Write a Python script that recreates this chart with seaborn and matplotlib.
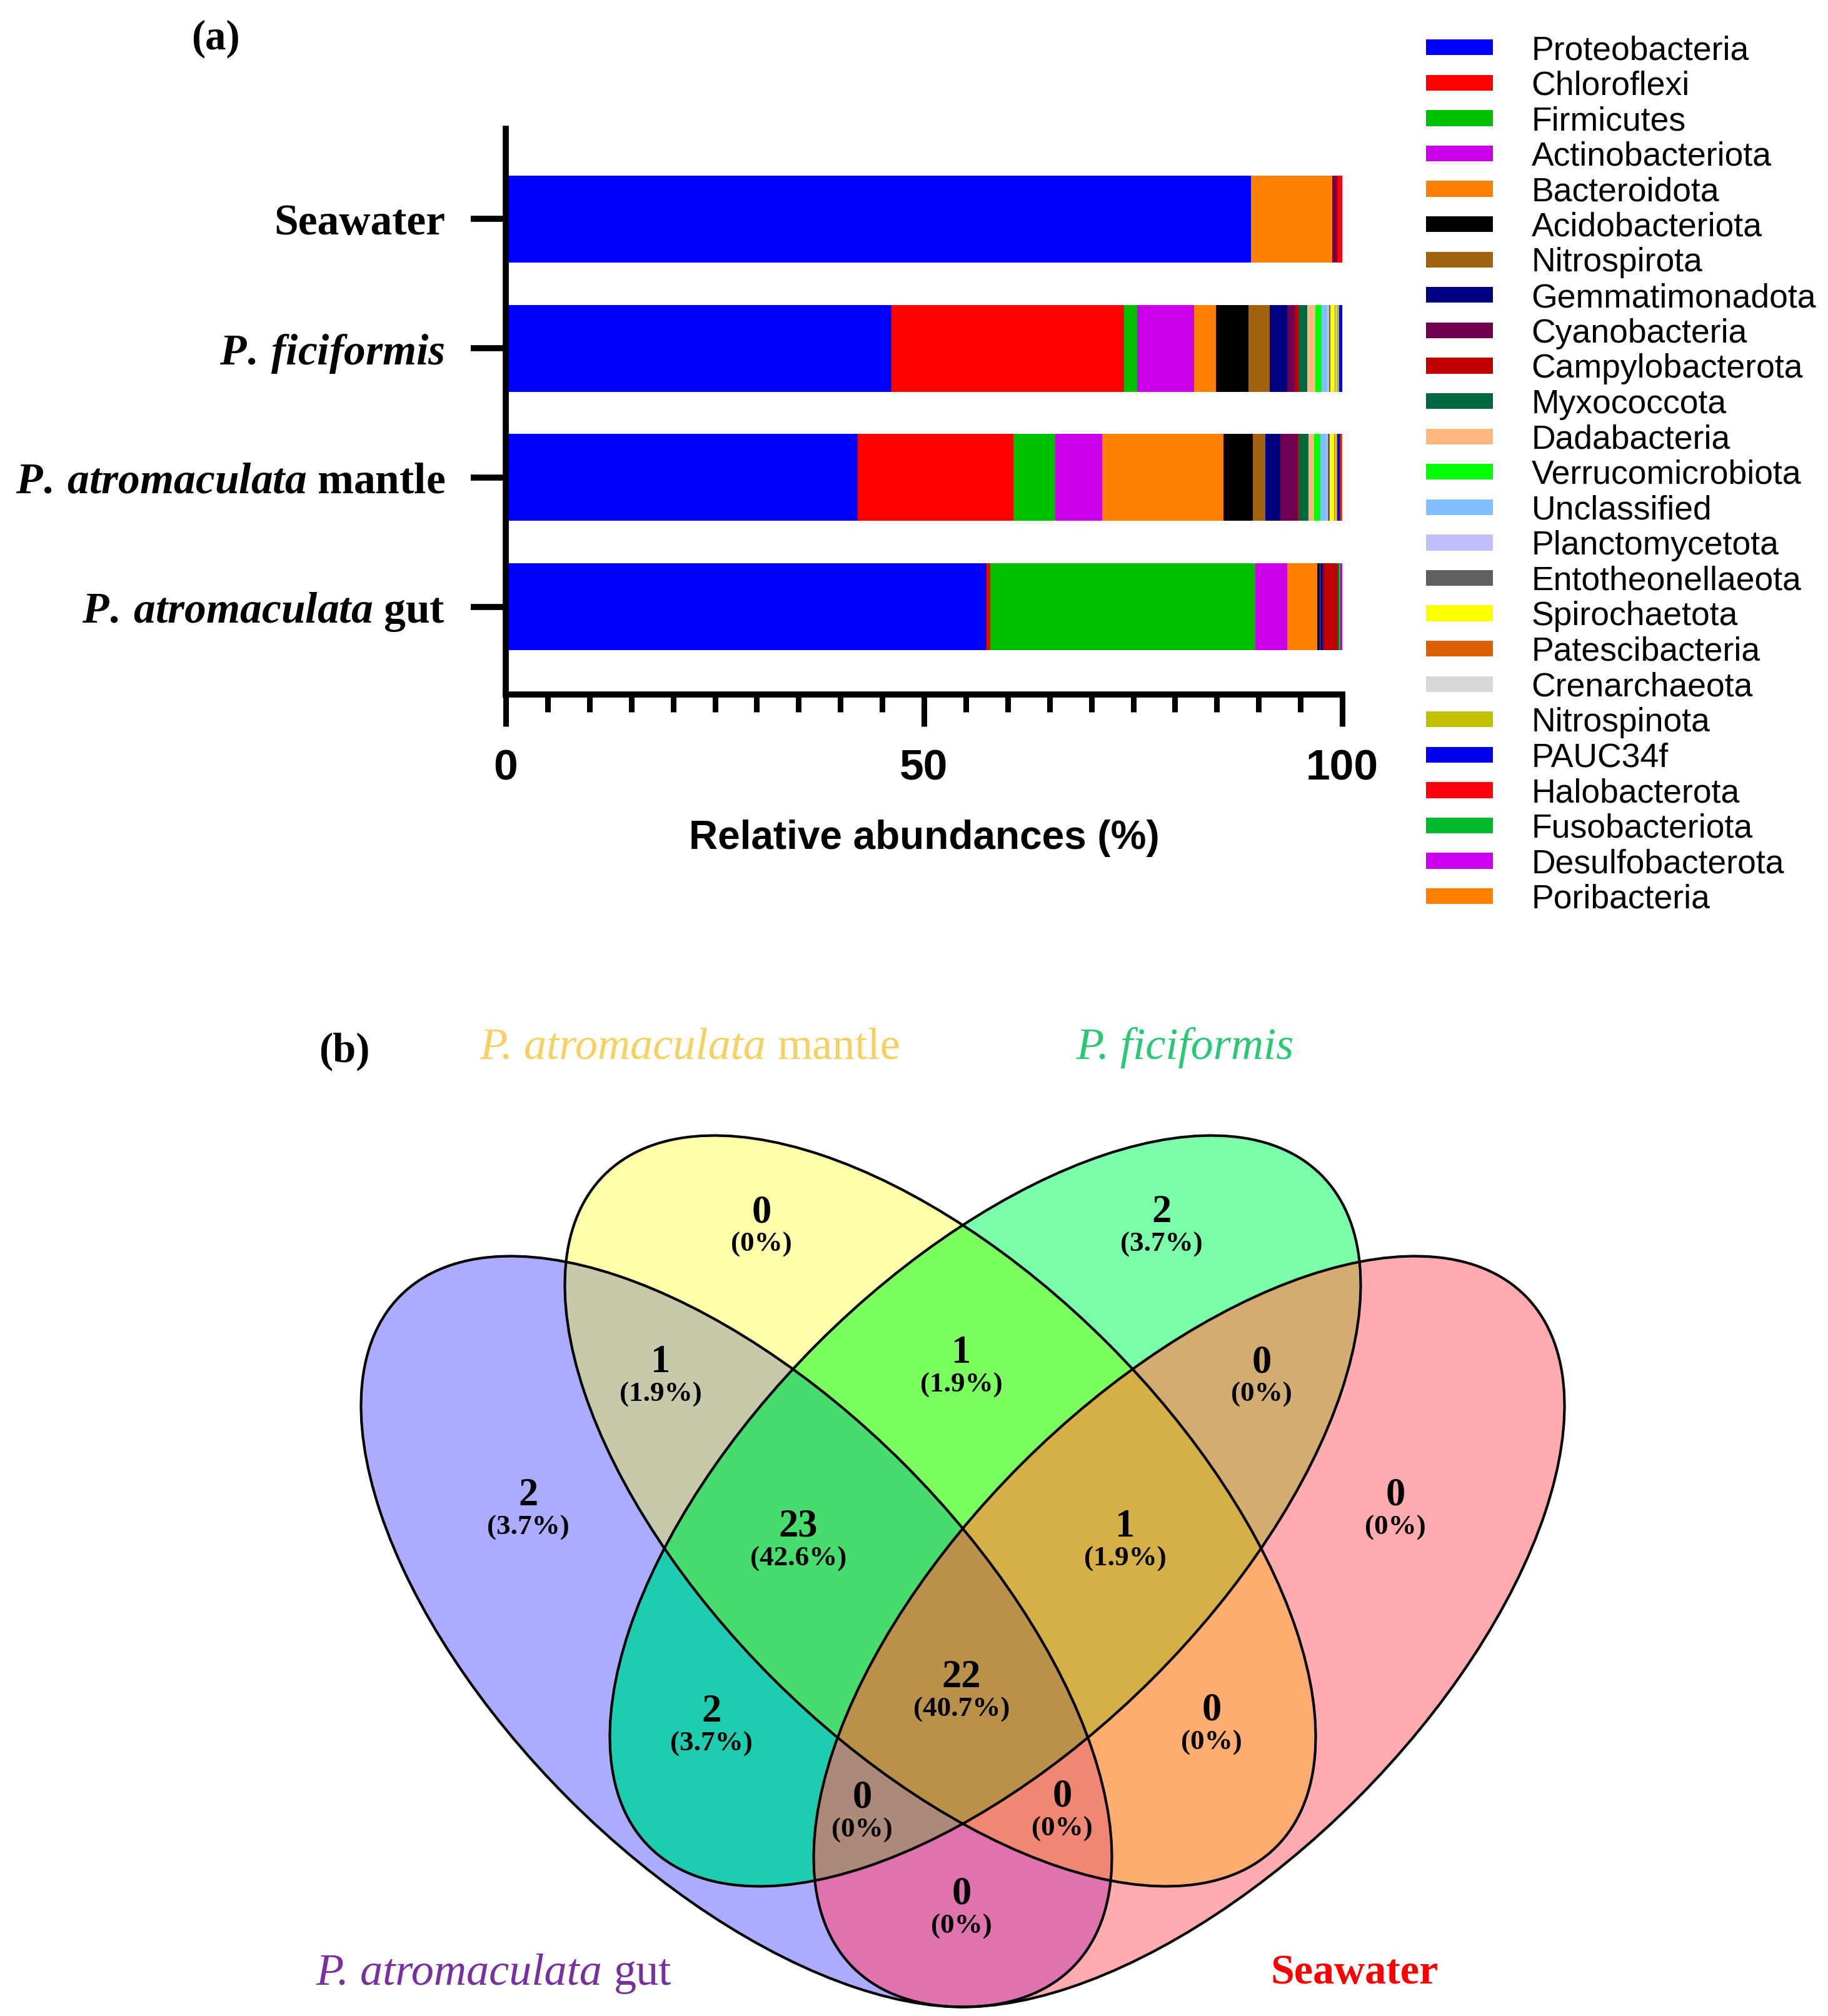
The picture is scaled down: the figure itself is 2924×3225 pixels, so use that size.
import numpy as np
import pandas as pd
import matplotlib
matplotlib.use("Agg")
import matplotlib.pyplot as plt
import seaborn as sns
from matplotlib.patches import Ellipse, Patch
from matplotlib.colors import to_rgba
from matplotlib.offsetbox import TextArea, HPacker, AnnotationBbox

sns.set_style("white")
plt.rcParams["font.family"] = ["Liberation Serif", "DejaVu Serif"]
plt.rcParams["text.color"] = "black"
plt.rcParams["axes.labelcolor"] = "black"
plt.rcParams["xtick.color"] = "black"
plt.rcParams["ytick.color"] = "black"
plt.rcParams["mathtext.fontset"] = "custom"
plt.rcParams["mathtext.rm"] = "Liberation Serif:bold"
plt.rcParams["mathtext.bf"] = "Liberation Serif:bold"
plt.rcParams["mathtext.it"] = "Liberation Serif:italic:bold"

# ---------------- panel (a) data ----------------
samples = ["Seawater", "P. ficiformis", "P. atromaculata mantle", "P. atromaculata gut"]
sample_labels = ["Seawater", r"$\mathit{P.}\:\mathit{ficiformis}$",
                 r"$\mathit{P.}\:\mathit{atromaculata}$ mantle",
                 r"$\mathit{P.}\:\mathit{atromaculata}$ gut"]

phyla = ["Proteobacteria", "Chloroflexi", "Firmicutes", "Actinobacteriota", "Bacteroidota",
         "Acidobacteriota", "Nitrospirota", "Gemmatimonadota", "Cyanobacteria",
         "Campylobacterota", "Myxococcota", "Dadabacteria", "Verrucomicrobiota",
         "Unclassified", "Planctomycetota", "Entotheonellaeota", "Spirochaetota",
         "Patescibacteria", "Crenarchaeota", "Nitrospinota", "PAUC34f", "Halobacterota",
         "Fusobacteriota", "Desulfobacterota", "Poribacteria"]

# relative abundance (%) per phylum, same order as `phyla`
seawater = [89.1, 0, 0, 0, 9.7, 0, 0, 0, 0.5, 0.2, 0, 0, 0, 0, 0, 0, 0, 0, 0, 0, 0, 0.5, 0, 0, 0]
ficiformis = [46.1, 27.8, 1.6, 6.8, 2.6, 3.9, 2.5, 2.1, 0.9, 0.5, 1.0, 1.0, 0.7, 0.7, 0.2, 0.2,
              0.5, 0.1, 0.1, 0.3, 0.4, 0, 0, 0, 0]
mantle = [42.1, 18.6, 5.0, 5.6, 14.5, 3.5, 1.5, 1.8, 2.0, 0.2, 1.2, 0.6, 0.8, 0.7, 0.2, 0.2,
          0.5, 0.1, 0.1, 0.2, 0.3, 0.2, 0, 0, 0.1]
gut = [57.5, 0.4, 31.7, 3.8, 3.6, 0.3, 0.1, 0.2, 0.2, 1.6, 0.2, 0, 0.1, 0, 0, 0, 0, 0, 0, 0,
       0, 0.1, 0, 0.2, 0]

phylum_colors = ["#0000FF", "#FF0000", "#00C000", "#CC00E8", "#FF8000", "#000000", "#A0620F",
                 "#000080", "#700050", "#C00000", "#006940", "#FFB880", "#00FF00", "#80C0FF",
                 "#C0C0FF", "#606060", "#FFFF00", "#DD6000", "#D8D8D8", "#C0C000", "#0000EE",
                 "#FF0010", "#00B82E", "#CC00EE", "#FF8000"]

# ---------------- panel (b) data ----------------
# P = P. atromaculata gut, Y = mantle, G = P. ficiformis, R = Seawater
regions = ["Y", "G", "P", "R", "PY", "YG", "GR", "PYG", "YGR", "PG", "YR", "PYGR", "PGR", "PYR", "PR"]
region_counts = [0, 2, 2, 0, 1, 1, 0, 23, 1, 2, 0, 22, 0, 0, 0]

# ---------------- figure ----------------
W, H = 2924, 3225
fig = plt.figure(figsize=(W / 100, H / 100), dpi=100)

ax = fig.add_axes([809 / W, 1 - 1110.5 / H, (2147 - 809) / W, (1110.5 - 205.6) / H])

df = pd.DataFrame({"Seawater": seawater, "P. ficiformis": ficiformis,
                   "P. atromaculata mantle": mantle, "P. atromaculata gut": gut},
                  index=phyla)
cum = df.cumsum()

# layered stacked bars: draw the cumulative totals from the last phylum back to the first
for i in reversed(range(len(phyla))):
    sns.barplot(x=cum.iloc[i][samples].values, y=samples, color=phylum_colors[i],
                saturation=1, width=0.672, linewidth=0, errorbar=None, orient="h", ax=ax)

ax.set_xlim(0, 100)
ax.set_ylim(3.676, -0.70)
ax.set_xticks([0, 50, 100])
ax.set_xticks(np.arange(0, 101, 5), minor=True)
ax.set_xticklabels(["0", "50", "100"], family="Liberation Sans", fontweight="bold", fontsize=50)
ax.set_yticks(range(len(samples)))
ax.set_yticklabels(sample_labels, fontweight="bold", fontsize=50)
ax.set_xlabel("Relative abundances (%)", family="Liberation Sans", fontweight="bold", fontsize=46)
ax.xaxis.set_label_coords(0.5, -0.222)
ax.set_ylabel("")
for s in ["top", "right"]:
    ax.spines[s].set_visible(False)
for s in ["left", "bottom"]:
    ax.spines[s].set_linewidth(7)
    ax.spines[s].set_color("black")
ax.tick_params(axis="y", which="major", direction="out", length=40, width=7, pad=30, left=True)
ax.tick_params(axis="x", which="major", direction="out", length=37, width=6.5, pad=26, bottom=True)
ax.tick_params(axis="x", which="minor", direction="out", length=20, width=6.5, bottom=True)
ax.grid(False)

fig.text(345 / W, 1 - 62 / H, "(a)", fontsize=48, fontweight="bold", ha="center", va="center")

handles = [Patch(facecolor=c, edgecolor="none", label=p) for p, c in zip(phyla, phylum_colors)]
fig.legend(handles=handles, loc="upper left", bbox_to_anchor=(2281 / W, 1 - 56 / H),
           frameon=False, prop={"family": "Liberation Sans", "size": 38.5},
           handlelength=2.0, handleheight=0.35, handletextpad=1.15, labelspacing=0.123,
           borderpad=0, borderaxespad=0)

# ---------------- Venn diagram ----------------
top_v = 1560
vax = fig.add_axes([0, 0, 1, (H - top_v) / H])
vax.set_xlim(0, W)
vax.set_ylim(H, top_v)
vax.axis("off")

cx0 = 1540
A, B = 760, 379
# centre x, centre y, angle for P, Y, G, R
ellipses = [(cx0 - 362, 2610, 45), (cx0 - 36, 2417, 45), (cx0 + 36, 2417, -45), (cx0 + 362, 2610, -45)]
set_bits = {"P": 8, "Y": 4, "G": 2, "R": 1}

region_colors = {
    "P": "#ABABFF", "Y": "#FFFFAB", "G": "#7BFEAA", "R": "#FFABB0",
    "PY": "#C8C8AA", "YG": "#7AFF5F", "GR": "#D2AC70", "PG": "#1ECDAF",
    "YR": "#FFAC70", "PR": "#DE73AF", "PYG": "#46DC6E", "YGR": "#D4B046",
    "PGR": "#AC8978", "PYR": "#F08773", "PYGR": "#B9914B",
}

gx = np.arange(400, 2700) + 0.5
gy = np.arange(1700, H) + 0.5
X, Y = np.meshgrid(gx, gy)
code = np.zeros(X.shape, dtype=int)
for bit, (cx, cy, ang) in zip([8, 4, 2, 1], ellipses):
    t = np.deg2rad(ang)
    p = (X - cx) * np.cos(t) + (Y - cy) * np.sin(t)
    q = -(X - cx) * np.sin(t) + (Y - cy) * np.cos(t)
    code += bit * (((p / A) ** 2 + (q / B) ** 2) <= 1)

lut = np.zeros((16, 4))
for key, col in region_colors.items():
    lut[sum(set_bits[k] for k in key)] = to_rgba(col)
vax.imshow(lut[code], extent=(400, 2700, H, 1700), origin="upper",
           interpolation="nearest", aspect="auto", zorder=1)

for cx, cy, ang in ellipses:
    vax.add_patch(Ellipse((cx, cy), 2 * A, 2 * B, angle=ang, fill=False,
                          edgecolor="black", linewidth=3, zorder=2))

label_xy = {
    "Y": (1218, 1940), "G": (1858, 1940), "P": (845, 2393), "R": (2232, 2393),
    "PY": (1057, 2180), "YG": (1538, 2165), "GR": (2018, 2180),
    "PYG": (1277, 2443), "YGR": (1800, 2443), "PG": (1138, 2739), "YR": (1938, 2737),
    "PYGR": (1538, 2684), "PGR": (1379, 2877), "PYR": (1699, 2875), "PR": (1538, 3031),
}
total = sum(region_counts)
for key, n in zip(regions, region_counts):
    x, y = label_xy[key]
    pct = "0%" if n == 0 else f"{100 * n / total:.1f}%"
    vax.text(x, y, str(n), fontsize=45, fontweight="bold", ha="center", va="center", zorder=3)
    vax.text(x, y + 51, f"({pct})", fontsize=32.5, fontweight="bold", ha="center", va="center", zorder=3)


def set_name(x, y, italic, rest, color):
    parts = [TextArea(italic, textprops=dict(fontsize=52, fontstyle="italic", color=color))]
    if rest:
        parts.append(TextArea(rest, textprops=dict(fontsize=52, color=color)))
    box = HPacker(children=parts, align="baseline", pad=0, sep=13)
    vax.add_artist(AnnotationBbox(box, (x, y), xycoords="data", box_alignment=(0.5, 0.5),
                                  frameon=False, pad=0, annotation_clip=False))


set_name(1104, 1676, "P. atromaculata", "mantle", "#F6D060")
set_name(1896, 1676, "P. ficiformis", "", "#28C874")
set_name(790, 3157, "P. atromaculata", "gut", "#7830A0")
vax.text(2166, 3157, "Seawater", fontsize=49, fontweight="bold", color="#FF0000",
         ha="center", va="center")
vax.text(551, 1682, "(b)", fontsize=48, fontweight="bold", ha="center", va="center")

fig.savefig("out.png", dpi=100)
